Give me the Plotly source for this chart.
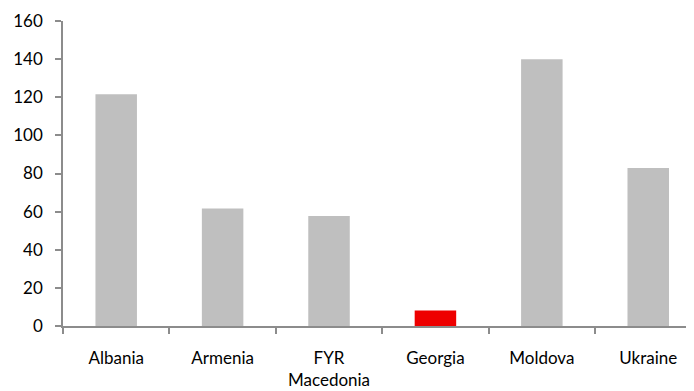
import plotly.graph_objects as go

categories = ["Albania", "Armenia", "FYR<br>Macedonia", "Georgia", "Moldova", "Ukraine"]
values = [121.6, 61.7, 57.7, 8.1, 140.0, 82.9]
bar_colors = ["#BFBFBF", "#BFBFBF", "#BFBFBF", "#EE0000", "#BFBFBF", "#BFBFBF"]
y_ticks = [0, 20, 40, 60, 80, 100, 120, 140, 160]

fig = go.Figure(go.Bar(x=categories, y=values, marker=dict(color=bar_colors, line=dict(width=0))))

axis_col = "#8C8C8C"
font = dict(family="Lato, Open Sans, sans-serif", size=17, color="#000000")
# the page body adds an 8px offset, so margins are shifted to compensate
fig.update_layout(
    width=686, height=391,
    margin=dict(l=55, r=0, t=13, b=73),
    paper_bgcolor="white", plot_bgcolor="white",
    bargap=0.61,
    showlegend=False,
    font=font,
)
fig.update_xaxes(
    type="category", range=[-0.5, 5.43], automargin=False,
    showline=True, linecolor=axis_col, linewidth=1.5,
    ticks="outside", tickson="boundaries", ticklen=6, tickcolor=axis_col, tickwidth=1.5,
    showgrid=False, zeroline=False, ticklabelstandoff=16,
    tickfont=font,
)
fig.update_yaxes(
    range=[0, 160], tickvals=y_ticks, automargin=False,
    showline=True, linecolor=axis_col, linewidth=1.5,
    ticks="outside", ticklen=6, tickcolor=axis_col, tickwidth=1.5,
    showgrid=False, zeroline=False, ticklabelstandoff=9,
    tickfont=font,
)

fig.write_html("out.html")
